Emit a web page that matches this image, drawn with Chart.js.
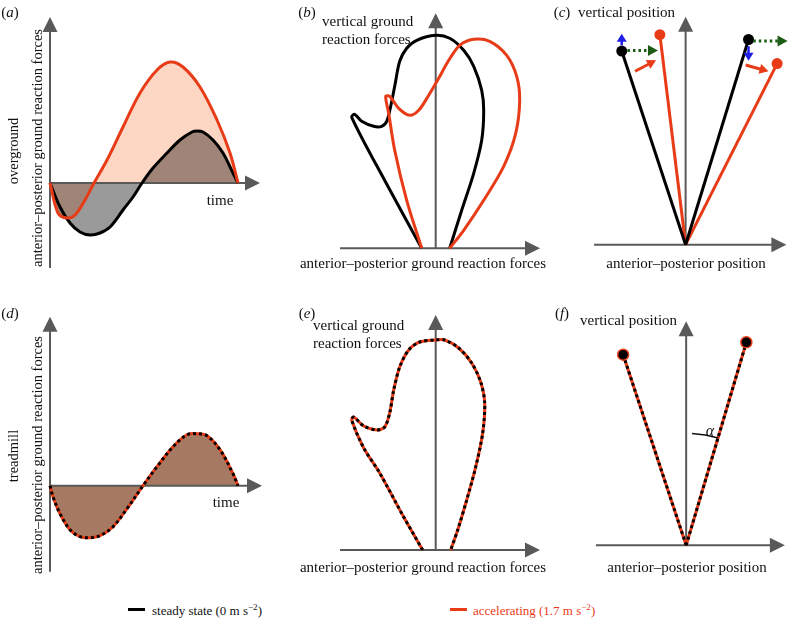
<!DOCTYPE html>
<html><head><meta charset="utf-8">
<script src="https://cdn.jsdelivr.net/npm/chart.js@4.4.0/dist/chart.umd.min.js"></script>
<style>
html,body{margin:0;padding:0;background:#fff;}
#wrap{position:relative;width:795px;height:619px;overflow:hidden;font-family:"Liberation Serif","Times New Roman",serif;color:#111;background:#fff;}
canvas{position:absolute;z-index:1;}
.t{position:absolute;white-space:nowrap;font-size:15px;line-height:1;z-index:2;}
.c{transform:translate(-50%,-50%);}
.l{transform:translate(0,-50%);}
.rot{transform:translate(-50%,-50%) rotate(-90deg);font-size:14.5px;}
sup{font-size:9px;vertical-align:5px;line-height:0;}
.bar{position:absolute;height:3px;width:17px;z-index:2;}
</style></head><body><div id="wrap">
<div class="t c" style="left:10px;top:12px">(<i>a</i>)</div>
<div class="t c" style="left:307px;top:12px">(<i>b</i>)</div>
<div class="t c" style="left:562px;top:12px">(<i>c</i>)</div>
<div class="t c" style="left:10px;top:313px">(<i>d</i>)</div>
<div class="t c" style="left:307px;top:313px">(<i>e</i>)</div>
<div class="t c" style="left:562px;top:313px">(<i>f</i>)</div>
<div class="t rot" style="left:13px;top:151px">overground</div>
<div class="t rot" style="left:37px;top:148px">anterior–posterior ground reaction forces</div>
<div class="t rot" style="left:13px;top:456px">treadmill</div>
<div class="t rot" style="left:37px;top:455px">anterior–posterior ground reaction forces</div>
<div class="t c" style="left:220px;top:200px">time</div>
<div class="t c" style="left:226px;top:502px">time</div>
<div class="t l" style="left:322px;top:21px">vertical ground</div>
<div class="t l" style="left:322px;top:39px">reaction forces</div>
<div class="t l" style="left:313px;top:325px">vertical ground</div>
<div class="t l" style="left:313px;top:343px">reaction forces</div>
<div class="t c" style="left:423px;top:263px">anterior–posterior ground reaction forces</div>
<div class="t c" style="left:423px;top:567px">anterior–posterior ground reaction forces</div>
<div class="t l" style="left:578px;top:12px">vertical position</div>
<div class="t l" style="left:580px;top:320px">vertical position</div>
<div class="t c" style="left:686px;top:263px">anterior–posterior position</div>
<div class="t c" style="left:687px;top:567px">anterior–posterior position</div>
<div class="t c" style="left:710px;top:431px;font-size:16px"><i>α</i></div>
<div class="bar" style="left:128px;top:608px;background:#000"></div>
<div class="t l" style="left:152px;top:610px;font-size:13px">steady state (0 m s<sup>−2</sup>)</div>
<div class="bar" style="left:450px;top:608px;background:#e83b17"></div>
<div class="t l" style="left:473px;top:610px;font-size:13px;color:#e83b17">accelerating (1.7 m s<sup>−2</sup>)</div>
</div>
<script>
// ---- data (units: offsets from each panel's axis origin, y upward) ----
const overgroundSteady = [[0,0],[10,-24],[20,-40],[30,-49],[40,-52],[50,-50],[60,-44],[73,-27],[83,-14],[92,0],[103,15],[117,30],[130,43],[142,51],[147,52],[153,51],[163,43],[173,30],[183,10],[188,0]];
const overgroundAccel = [[0,0],[8,-30],[17,-35],[25,-32],[35,-17],[44,0],[57,23],[73,56],[90,90],[107,113],[120,121],[133,116],[150,96],[167,63],[180,30],[188,0]];
const treadmillAP = [[0,0],[3,-11],[10,-28],[20,-44],[30,-51],[40,-52],[50,-50],[63,-41],[77,-23],[93,0],[107,19],[123,39],[137,51],[147,52],[157,50],[170,36],[183,12],[188,0]];
const overgroundLoopSteady = [[-14,0],[-50,66],[-84,131],[-81,134],[-74,127],[-62,122],[-54,122],[-49,127],[-45,142],[-41,162],[-36,187],[-29,200],[-19,208],[0,213],[14,210],[28,198],[38,182],[46,158],[48,138],[46,108],[38,75],[26,38],[14,0]];
const overgroundLoopAccel = [[-14,0],[-29,48],[-41,98],[-47,135],[-50,152],[-46,152],[-37,140],[-26,133],[-17,138],[-7,153],[3,170],[13,188],[24,203],[38,209],[54,207],[71,193],[81,172],[84,148],[80,115],[68,82],[48,48],[28,18],[14,0]];
const treadmillLoop = [[-13,0],[-32,33],[-56,77],[-72,102],[-84,130],[-82,133],[-72,124],[-59,120],[-51,123],[-46,137],[-42,160],[-36,183],[-27,200],[-16,208],[0,210],[9,210],[23,202],[36,187],[45,168],[49,147],[47,117],[40,83],[31,50],[22,20],[15,0]];
const legSteadyTouch = [[0,0],[-67,201]];
const legAccelTouch = [[0,0],[-27,218]];
const legSteadyOff = [[0,0],[66,213]];
const legAccelOff = [[0,0],[96,188]];
const legTreadTouch = [[0,0],[-67,200]];
const legTreadOff = [[0,0],[64,213]];
const verticalShift = [[[-67,207],[-67,219]],[[66,206],[66,191]]];
const forwardShift = [[[-61,201.5],[-29,201.5]],[[71,211.5],[107,211.5]]];
const legSwing = [[[-53,180],[-31,191.5]],[[63,186.5],[87,180]]];
const alphaArc = [3,16.7,112]; // from/to degrees from vertical, radius

// ---- styling ----
const RED = '#e83b17', BLACK = '#000', AXIS = '#595959';
const PEACH = '#fdd7c4', BROWN_A = '#9f8477', GRAY_A = '#9a9a9a', BROWN_D = '#a67a62', NONE = 'rgba(0,0,0,0)';
const pts = a => a.map(([x,y]) => ({x,y}));

function arrowHead(ctx, x0, y0, x1, y1, len, half){
  const a = Math.atan2(y1-y0, x1-x0);
  ctx.beginPath();
  ctx.moveTo(x1, y1);
  ctx.lineTo(x1 - len*Math.cos(a) + half*Math.sin(a), y1 - len*Math.sin(a) - half*Math.cos(a));
  ctx.lineTo(x1 - len*Math.cos(a) - half*Math.sin(a), y1 - len*Math.sin(a) + half*Math.cos(a));
  ctx.closePath(); ctx.fill();
}
function drawArrow(chart, seg, color, width, dash, len, half){
  const xs = chart.scales.x, ys = chart.scales.y, ctx = chart.ctx;
  const x0 = xs.getPixelForValue(seg[0][0]), y0 = ys.getPixelForValue(seg[0][1]);
  const x1 = xs.getPixelForValue(seg[1][0]), y1 = ys.getPixelForValue(seg[1][1]);
  const a = Math.atan2(y1-y0, x1-x0);
  ctx.save(); ctx.strokeStyle = color; ctx.fillStyle = color; ctx.lineWidth = width; ctx.setLineDash(dash);
  ctx.beginPath(); ctx.moveTo(x0, y0); ctx.lineTo(x1 - (len-1)*Math.cos(a), y1 - (len-1)*Math.sin(a)); ctx.stroke();
  ctx.setLineDash([]);
  arrowHead(ctx, x0, y0, x1, y1, len, half);
  ctx.restore();
}
function drawAxes(chart, o){
  const ctx = chart.ctx, xs = chart.scales.x, ys = chart.scales.y;
  ctx.save(); ctx.strokeStyle = AXIS; ctx.fillStyle = AXIS; ctx.lineWidth = 2;
  const xa = [xs.getPixelForValue(o.xAxis[0]), xs.getPixelForValue(o.xAxis[1])], yo = ys.getPixelForValue(0);
  ctx.beginPath(); ctx.moveTo(xa[0], yo); ctx.lineTo(xa[1]-12, yo); ctx.stroke();
  arrowHead(ctx, xa[0], yo, xa[1], yo, 15, 7.5);
  const ya = [ys.getPixelForValue(o.yAxis[0]), ys.getPixelForValue(o.yAxis[1])], xo = xs.getPixelForValue(0);
  ctx.beginPath(); ctx.moveTo(xo, ya[0]); ctx.lineTo(xo, ya[1]+12); ctx.stroke();
  arrowHead(ctx, xo, ya[0], xo, ya[1], 15, 7.5);
  ctx.restore();
}
const schematic = {
  id: 'schematic',
  beforeDatasetsDraw(chart, args, o){ if (o.axisAfter < 0) drawAxes(chart, o); },
  afterDatasetDraw(chart, args, o){ if (o.axisAfter === args.index) drawAxes(chart, o); },
  afterDatasetsDraw(chart, args, o){
    if (o.arrows){
      verticalShift.forEach(s => drawArrow(chart, s, '#1f1fe6', 2.5, [], 8, 5));
      forwardShift.forEach(s => drawArrow(chart, s, '#1d5c14', 3, [2.5,3], 10, 5.5));
      legSwing.forEach(s => drawArrow(chart, s, RED, 3, [], 9, 5));
    }
    if (o.arc){
      const ctx = chart.ctx, xs = chart.scales.x, ys = chart.scales.y;
      const cx = xs.getPixelForValue(0), cy = ys.getPixelForValue(0);
      ctx.save(); ctx.strokeStyle = '#111'; ctx.lineWidth = 1.5; ctx.beginPath();
      ctx.arc(cx, cy, alphaArc[2], -Math.PI/2 + alphaArc[0]*Math.PI/180, -Math.PI/2 + alphaArc[1]*Math.PI/180);
      ctx.stroke(); ctx.restore();
    }
  }
};

const wrap = document.getElementById('wrap');
function panel(box, origin, datasets, extra){
  const cv = document.createElement('canvas');
  cv.width = box[2]; cv.height = box[3];
  cv.style.left = box[0] + 'px'; cv.style.top = box[1] + 'px';
  wrap.insertBefore(cv, wrap.firstChild);
  new Chart(cv, {
    type: 'line',
    data: { datasets },
    options: {
      responsive: false, animation: false, events: [],
      layout: { padding: 0 },
      scales: {
        x: { type: 'linear', display: false, bounds: 'data', min: box[0]-origin[0], max: box[0]+box[2]-origin[0] },
        y: { type: 'linear', display: false, bounds: 'data', min: origin[1]-(box[1]+box[3]), max: origin[1]-box[1] }
      },
      elements: { point: { radius: 0 } },
      plugins: { legend: { display: false }, tooltip: { enabled: false }, schematic: extra }
    },
    plugins: [schematic]
  });
}
const line = (d, color, w, t, extra) => Object.assign({ data: pts(d), borderColor: color, borderWidth: w, fill: false, tension: t, pointRadius: 0 }, extra || {});
const area = (d, above, below, t) => ({ data: pts(d), borderColor: NONE, borderWidth: 0, pointRadius: 0, tension: t, fill: { target: 'origin', above, below } });

// (a)
panel([0,0,280,300],[50,183],[
  line(overgroundAccel, RED, 3, 0.35),
  line(overgroundSteady, BLACK, 3, 0.35),
  area(overgroundAccel, NONE, BROWN_A, 0.35),
  area(overgroundSteady, BROWN_A, GRAY_A, 0.35),
  area(overgroundAccel, PEACH, NONE, 0.35)
], { axisAfter: 2, xAxis: [0,210], yAxis: [-85,166] });
// (d)
panel([0,300,280,300],[50,485.7],[
  line(treadmillAP, BLACK, 3, 0.35, { borderDash: [3,3] }),
  line(treadmillAP, RED, 3, 0.35),
  area(treadmillAP, BROWN_D, BROWN_D, 0.35)
], { axisAfter: 2, xAxis: [0,212], yAxis: [-86,169] });
// (b)
panel([280,0,280,300],[435.7,248.3],[
  line(overgroundLoopAccel, RED, 3, 0.3),
  line(overgroundLoopSteady, BLACK, 3, 0.3)
], { axisAfter: -1, xAxis: [-95.7,104.3], yAxis: [0,235] });
// (e)
panel([280,300,280,300],[435.7,550],[
  line(treadmillLoop, BLACK, 3, 0.3, { borderDash: [3,3] }),
  line(treadmillLoop, RED, 3, 0.3)
], { axisAfter: -1, xAxis: [-95.7,104.3], yAxis: [0,235] });
// (c)
const leg = (d, color) => line(d, color, 3, 0, { pointRadius: [0,5.5], pointBackgroundColor: color, pointBorderWidth: 0 });
panel([560,0,235,300],[686,248.3],[
  leg(legSteadyTouch, BLACK),
  leg(legSteadyOff, BLACK),
  leg(legAccelTouch, RED),
  leg(legAccelOff, RED)
], { axisAfter: -1, xAxis: [-96,105.7], yAxis: [0,236.7], arrows: true });
// (f)
const tleg = d => line(d, BLACK, 3, 0, { borderDash: [3,3], pointRadius: [0,5.5], pointBackgroundColor: BLACK, pointBorderColor: RED, pointBorderWidth: 1.5 });
panel([560,300,235,300],[686.7,550],[
  tleg(legTreadTouch),
  tleg(legTreadOff),
  line(legTreadTouch, RED, 3, 0),
  line(legTreadOff, RED, 3, 0)
], { axisAfter: -1, xAxis: [-96,105], yAxis: [0,235], arc: true });
</script>
</body></html>
